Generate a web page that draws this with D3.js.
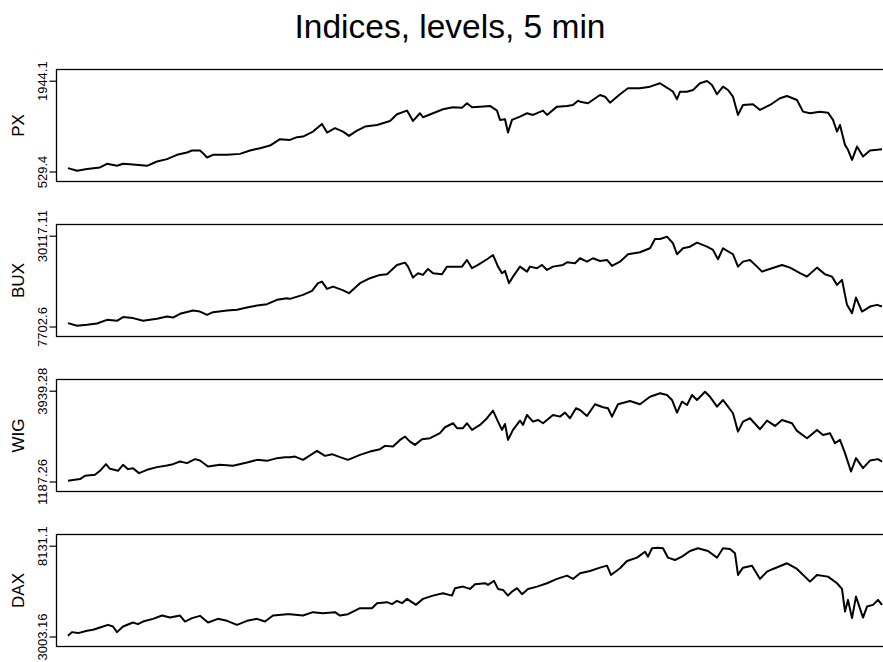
<!DOCTYPE html>
<html>
<head>
<meta charset="utf-8">
<script src="https://cdn.jsdelivr.net/npm/d3@7"></script>
<style>
  html, body { margin: 0; padding: 0; background: #fff; }
  svg { display: block; font-family: "Liberation Sans", Arial, Helvetica, sans-serif; }
</style>
</head>
<body>
<svg id="chart" width="883" height="662"></svg>
<script>
// ---- DATA (observation index t, index level v) ----
const title = "Indices, levels, 5 min";
const seriesNames = ["PX", "BUX", "WIG", "DAX"];
const tickPX  = [529.4, 1944.1];
const tickBUX = [7702.6, 30117.11];
const tickWIG = [1187.26, 3939.28];
const tickDAX = [3003.16, 8131.1];
const tickLabelPX  = ["529.4", "1944.1"];
const tickLabelBUX = ["7702.6", "30117.11"];
const tickLabelWIG = ["1187.26", "3939.28"];
const tickLabelDAX = ["3003.16", "8131.1"];

const tPX = [0,9,19,32,39,49,55,65,79,89,99,109,119,124,132,135,139,145,159,172,182,192,202,212,
  222,229,235,245,254,259,267,275,281,289,297,309,322,329,339,345,352,355,365,375,385,394,399,404,412,422,429,432,437,440,444,452,459,465,475,479,489,499,505,510,
  512,520,532,537,542,552,560,572,582,592,600,605,609,612,619,625,632,639,644,649,655,660,665,670,675,685,692,702,712,719,729,735,742,752,760,765,769,772,777,780,784,789,795,802,809,814];
const vPX = [582,540,567,592,649,618,649,638,618,685,722,789,825,856,856,815,747,789,789,804,856,893,934,1033,
  1022,1064,1073,1151,1271,1136,1204,1151,1084,1167,1229,1255,1317,1422,1478,1317,1437,1375,1437,1499,1531,1524,1593,1531,1540,1551,1478,1333,1344,1136,1333,1384,1437,1411,1478,1411,1540,1551,1566,1633,
  1617,1593,1722,1695,1602,1733,1826,1826,1851,1904,1826,1773,1655,1773,1773,1799,1904,1939,1877,1733,1851,1799,1695,1411,1566,1577,1488,1566,1670,1706,1644,1462,1437,1462,1446,1333,1151,1255,944,867,711,918,762,856,867,877];

const tBUX = [0,9,19,29,39,49,55,65,75,89,99,105,112,125,132,139,145,159,169,179,189,199,209,219,
  222,235,244,250,254,259,265,274,281,292,302,312,319,329,337,340,345,350,355,360,365,374,379,394,399,404,410,419,425,430,434,437,441,445,452,459,462,469,474,479,485,495,499,507,
  512,519,525,532,539,544,552,560,572,582,587,592,599,605,609,615,622,629,639,645,650,655,665,670,675,682,689,694,704,714,722,732,739,749,757,764,769,774,779,784,788,794,802,809,814];
const vBUX = [8540,7875,8121,8441,9353,9107,10018,9772,9107,9599,10166,9919,10831,11644,11397,10584,11249,11644,11816,12382,12875,13220,14279,14697,
  14525,15510,16495,18392,18786,16988,17555,16742,15929,18392,19624,20436,20609,22899,23466,22481,19771,20855,20436,21914,20855,20609,22481,22481,24131,22087,22899,24303,25362,22481,20855,21422,18392,20018,22481,21249,22481,22087,22899,21668,22481,22899,23564,23318,
  24550,23712,24550,23884,24131,22653,23712,25535,26027,27012,29303,29303,29870,28244,25535,27012,27407,28392,27407,26594,24303,27012,25535,22481,23712,24131,22481,21249,22087,22899,22235,20855,20018,22235,20609,20018,17974,19205,13047,11003,14845,11397,12629,13047,12629];

const tWIG = [0,12,17,27,32,38,42,50,55,60,65,71,79,89,99,105,112,119,127,132,140,152,165,179,189,199,209,217,
  222,227,235,249,257,264,272,280,292,302,312,317,325,332,337,342,347,354,362,372,377,385,389,395,399,404,412,419,425,430,434,437,440,445,452,455,459,465,470,475,485,492,497,502,508,
  512,519,527,535,540,544,550,562,572,582,592,599,604,609,614,619,624,629,637,642,649,655,660,665,670,675,682,692,699,707,714,724,729,739,749,755,762,767,772,777,783,788,795,802,810,814];
const vWIG = [1208,1260,1360,1390,1511,1713,1571,1511,1692,1562,1592,1441,1541,1623,1671,1713,1792,1744,1865,1822,1641,1692,1662,1762,1843,1813,1895,1925,
  1925,1943,1843,2116,1964,2016,1925,1843,1995,2094,2167,2267,2246,2448,2548,2397,2297,2469,2500,2651,2832,2953,2802,2802,2953,2751,2902,3105,3334,3002,2751,2932,2448,2751,3032,2902,3204,3002,3053,2953,3204,3153,3274,3105,3407,
  3355,3174,3528,3437,3407,3153,3528,3628,3528,3757,3860,3809,3658,3274,3606,3507,3809,3658,3909,3757,3455,3658,3455,3256,2699,3002,3105,2772,3032,2872,3053,2953,2720,2500,2751,2599,2651,2348,2448,2046,1490,1895,1592,1822,1865,1792];

const tDAX = [0,4,10,19,25,32,40,45,49,55,65,70,75,85,94,102,112,117,124,132,140,150,159,169,179,189,197,205,219,
  222,235,245,255,267,272,280,292,304,309,319,324,329,334,339,348,355,365,375,384,387,395,402,407,417,420,426,430,435,440,444,449,454,460,469,479,489,499,505,
  512,522,532,539,543,552,559,569,577,580,584,590,595,600,607,614,622,630,640,649,655,662,667,670,675,684,692,699,705,719,729,742,749,760,769,774,777,780,784,788,795,799,805,810,814];
const vDAX = [3043,3251,3195,3324,3381,3510,3662,3567,3251,3567,3792,3702,3848,4000,4186,4074,4186,3848,4040,4169,3792,4000,3888,3662,3888,4000,3848,4186,4265,
  4265,4186,4378,4322,4378,4186,4265,4603,4603,4885,4941,4829,5015,4885,5128,4790,5128,5313,5449,5313,5731,5821,5691,5956,6012,5917,6142,5691,5635,5313,5539,5731,5392,5691,5821,6012,6255,6441,6255,
  6576,6705,6891,7004,6480,6857,7269,7455,7793,7511,7984,8018,7984,7455,7325,7511,7832,7984,7832,7455,7984,7945,7703,6480,6891,7004,6255,6666,6818,7139,6818,6102,6480,6384,6012,5691,4412,5071,4040,5257,4074,4694,4790,5071,4790];

// ---- LAYOUT ----
const panels = [
  { name: seriesNames[0], t: tPX,  v: vPX,  ticks: tickPX,  labels: tickLabelPX },
  { name: seriesNames[1], t: tBUX, v: vBUX, ticks: tickBUX, labels: tickLabelBUX },
  { name: seriesNames[2], t: tWIG, v: vWIG, ticks: tickWIG, labels: tickLabelWIG },
  { name: seriesNames[3], t: tDAX, v: vDAX, ticks: tickDAX, labels: tickLabelDAX }
];

const svg = d3.select("#chart");
const left = 56.5, right = 895, firstTop = 69.5, panelH = 112, step = 155;
const tMax = d3.max(panels, p => d3.max(p.t));
const x = d3.scaleLinear().domain([0, tMax]).range([68, 882]);

svg.append("text")
  .attr("x", 450).attr("y", 38)
  .attr("text-anchor", "middle")
  .attr("font-size", 33.5)
  .text(title);

panels.forEach((p, i) => {
  const top = firstTop + i * step;
  const bottom = top + panelH;
  const y = d3.scaleLinear().domain(p.ticks).range([bottom - 10, top + 11.2]);
  const g = svg.append("g");

  g.append("rect")
    .attr("x", left).attr("y", top)
    .attr("width", right - left).attr("height", panelH)
    .attr("fill", "none").attr("stroke", "#000").attr("stroke-width", 1.3);

  const axis = d3.axisLeft(y).tickValues(p.ticks)
    .tickFormat((d, k) => p.labels[k]).tickSize(7).tickPadding(0);
  const ag = g.append("g").attr("transform", `translate(${left - 7},0)`).call(axis);
  ag.select(".domain").remove();
  ag.selectAll(".tick line").attr("x1", 0).attr("x2", 7).attr("stroke-width", 1.2);
  ag.selectAll(".tick text").remove();
  ag.selectAll(".tick").append("text")
    .attr("transform", "translate(-3,0) rotate(-90)")
    .attr("text-anchor", "middle")
    .attr("fill", "#000")
    .attr("font-size", 13)
    .text((d, k) => p.labels[k]);

  g.append("text")
    .attr("transform", `translate(24,${(top + bottom) / 2}) rotate(-90)`)
    .attr("text-anchor", "middle")
    .attr("font-size", 17)
    .text(p.name);

  const line = d3.line().x((d, k) => x(p.t[k])).y(d => y(d));
  g.append("path")
    .datum(p.v)
    .attr("d", line)
    .attr("fill", "none").attr("stroke", "#000")
    .attr("stroke-width", 2).attr("stroke-linejoin", "round");
});
</script>
</body>
</html>
